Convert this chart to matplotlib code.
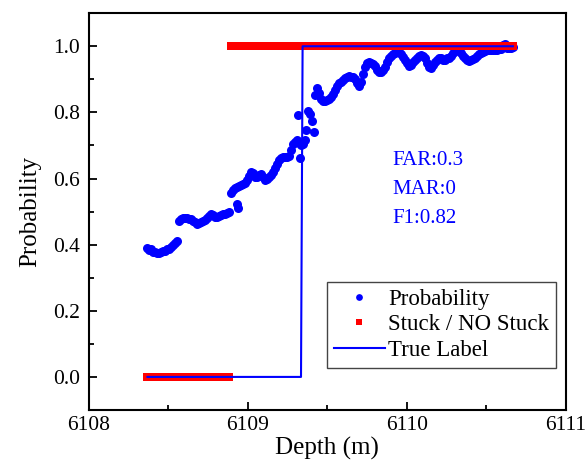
import numpy as np
import matplotlib
matplotlib.use("Agg")
import matplotlib.pyplot as plt
from matplotlib.ticker import MultipleLocator, ScalarFormatter

plt.rcParams['font.family'] = ['Liberation Serif', 'DejaVu Serif']

# probability of stuck pipe vs depth
depth = [6108.366, 6108.379, 6108.392, 6108.404, 6108.417, 6108.429, 6108.442, 6108.454,
         6108.467, 6108.480, 6108.492, 6108.505, 6108.517, 6108.530, 6108.542, 6108.555,
         6108.568, 6108.580, 6108.593, 6108.605, 6108.618, 6108.630, 6108.643, 6108.656,
         6108.668, 6108.681, 6108.693, 6108.706, 6108.718, 6108.731, 6108.744, 6108.756,
         6108.769, 6108.781, 6108.794, 6108.806, 6108.819, 6108.832, 6108.844, 6108.857,
         6108.869, 6108.882, 6108.894, 6108.907, 6108.920, 6108.932, 6108.932, 6108.939,
         6108.945, 6108.957, 6108.970, 6108.982, 6108.995, 6109.008, 6109.020, 6109.033,
         6109.045, 6109.058, 6109.070, 6109.083, 6109.096, 6109.108, 6109.121, 6109.133,
         6109.146, 6109.158, 6109.171, 6109.184, 6109.196, 6109.209, 6109.221, 6109.234,
         6109.247, 6109.259, 6109.272, 6109.284, 6109.297, 6109.309, 6109.316, 6109.322,
         6109.328, 6109.334, 6109.347, 6109.360, 6109.366, 6109.379, 6109.391, 6109.404,
         6109.416, 6109.422, 6109.435, 6109.448, 6109.460, 6109.473, 6109.485, 6109.498,
         6109.510, 6109.523, 6109.536, 6109.548, 6109.561, 6109.573, 6109.586, 6109.598,
         6109.611, 6109.624, 6109.636, 6109.649, 6109.661, 6109.674, 6109.686, 6109.699,
         6109.712, 6109.724, 6109.737, 6109.749, 6109.762, 6109.774, 6109.787, 6109.800,
         6109.812, 6109.825, 6109.837, 6109.850, 6109.862, 6109.875, 6109.888, 6109.900,
         6109.913, 6109.925, 6109.938, 6109.950, 6109.963, 6109.976, 6109.988, 6110.001,
         6110.013, 6110.026, 6110.038, 6110.051, 6110.064, 6110.076, 6110.089, 6110.101,
         6110.114, 6110.126, 6110.139, 6110.152, 6110.164, 6110.177, 6110.189, 6110.202,
         6110.214, 6110.227, 6110.240, 6110.252, 6110.265, 6110.277, 6110.290, 6110.302,
         6110.315, 6110.328, 6110.340, 6110.353, 6110.365, 6110.378, 6110.390, 6110.403,
         6110.416, 6110.428, 6110.441, 6110.453, 6110.466, 6110.478, 6110.491, 6110.504,
         6110.516, 6110.529, 6110.541, 6110.554, 6110.566, 6110.579, 6110.592, 6110.604,
         6110.617, 6110.629, 6110.642, 6110.654, 6110.667]
prob = [0.391, 0.385, 0.388, 0.378, 0.378, 0.375, 0.375, 0.378,
        0.381, 0.381, 0.388, 0.388, 0.394, 0.400, 0.406, 0.412,
        0.472, 0.478, 0.481, 0.481, 0.481, 0.478, 0.478, 0.472,
        0.469, 0.463, 0.466, 0.469, 0.472, 0.475, 0.481, 0.487,
        0.494, 0.490, 0.484, 0.484, 0.487, 0.490, 0.494, 0.494,
        0.497, 0.500, 0.557, 0.566, 0.572, 0.575, 0.524, 0.512,
        0.578, 0.581, 0.584, 0.587, 0.596, 0.609, 0.621, 0.618,
        0.606, 0.606, 0.612, 0.615, 0.606, 0.596, 0.599, 0.606,
        0.612, 0.621, 0.633, 0.645, 0.657, 0.663, 0.666, 0.666,
        0.666, 0.669, 0.687, 0.705, 0.711, 0.715, 0.793, 0.708,
        0.663, 0.702, 0.705, 0.715, 0.748, 0.805, 0.796, 0.775,
        0.742, 0.854, 0.875, 0.860, 0.842, 0.833, 0.833, 0.836,
        0.839, 0.848, 0.857, 0.869, 0.881, 0.890, 0.893, 0.899,
        0.905, 0.908, 0.911, 0.908, 0.908, 0.902, 0.890, 0.881,
        0.893, 0.917, 0.936, 0.948, 0.951, 0.948, 0.945, 0.939,
        0.929, 0.923, 0.923, 0.929, 0.936, 0.951, 0.963, 0.972,
        0.978, 0.981, 0.984, 0.984, 0.978, 0.969, 0.957, 0.948,
        0.939, 0.942, 0.951, 0.957, 0.966, 0.972, 0.975, 0.972,
        0.966, 0.948, 0.936, 0.933, 0.942, 0.951, 0.957, 0.963,
        0.963, 0.957, 0.957, 0.963, 0.966, 0.972, 0.981, 0.987,
        0.990, 0.987, 0.981, 0.972, 0.963, 0.957, 0.954, 0.957,
        0.960, 0.966, 0.972, 0.978, 0.981, 0.984, 0.987, 0.990,
        0.990, 0.990, 0.990, 0.990, 0.990, 0.993, 0.993, 1.005,
        1.008, 0.996, 0.996, 0.996, 0.999]

threshold = 0.5
# true label: step at the stuck depth
true_depth = [6108.37, 6109.335, 6109.345, 6110.667]
true_label = [0, 0, 1, 1]

metrics = ["FAR:0.3", "MAR:0", "F1:0.82"]

depth = np.array(depth)
prob = np.array(prob)
stuck = (prob > threshold).astype(int)

fig = plt.figure(figsize=(5.87, 4.63), dpi=100)
ax = fig.add_axes([0.151, 0.1145, 0.813, 0.857])

ax.plot(depth, prob, 'o', color='#0000ff', ms=6.5, mew=0, label='Probability', zorder=2)
ax.plot(depth, stuck, 's', color='#ff0000', ms=5.8, mew=0, label='Stuck / NO Stuck', zorder=3)
ax.plot(true_depth, true_label, '-', color='#0000ff', lw=1.5, label='True Label', zorder=4)

ax.set_xlim(6108, 6111)
ax.set_ylim(-0.1, 1.1)
ax.set_xticks([6108, 6109, 6110, 6111])
ax.xaxis.set_minor_locator(MultipleLocator(0.5))
ax.yaxis.set_major_locator(MultipleLocator(0.2))
ax.yaxis.set_minor_locator(MultipleLocator(0.1))
fmt = ScalarFormatter(useOffset=False)
ax.xaxis.set_major_formatter(fmt)
ax.yaxis.set_major_formatter(plt.FormatStrFormatter('%.1f'))

ax.tick_params(which='both', direction='in', width=1.3, labelsize=15.5)
ax.tick_params(axis='x', pad=4.5)
ax.tick_params(axis='y', pad=6)
ax.tick_params(which='major', length=6)
ax.tick_params(which='minor', length=3.5)
for s in ax.spines.values():
    s.set_linewidth(1.5)

ax.set_xlabel('Depth (m)', fontsize=18, labelpad=1)
ax.set_ylabel('Probability', fontsize=18, labelpad=9)

for i, t in enumerate(metrics):
    ax.text(0.637, 0.629 - i * 0.0737, t, transform=ax.transAxes, color='#0000ff',
            fontsize=15, va='center', ha='left')

leg = ax.legend(loc='lower right', bbox_to_anchor=(0.979, 0.106), fontsize=16.5,
                fancybox=False, edgecolor='#444444', framealpha=1, handlelength=2.2,
                handletextpad=0.15, markerscale=0.75, borderpad=0.3, labelspacing=0.2,
                borderaxespad=0)
leg.get_frame().set_linewidth(1.0)

fig.savefig('out.png', dpi=100)
